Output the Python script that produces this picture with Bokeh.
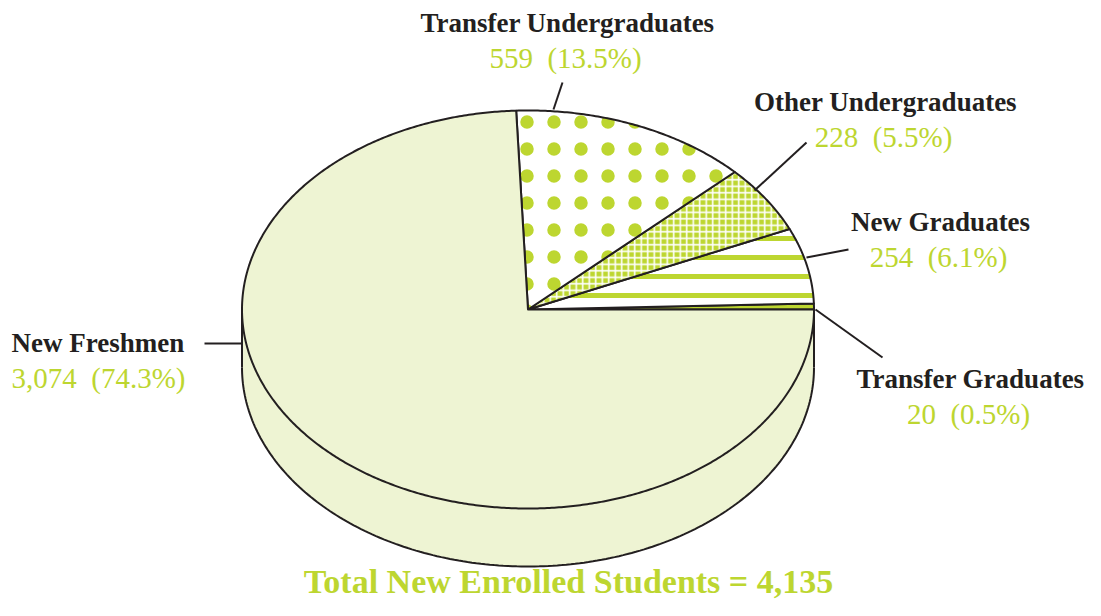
import numpy as np
from bokeh.plotting import figure
from bokeh.models import Range1d, Label
from bokeh.embed import file_html
from bokeh.resources import INLINE

# ---- data ----
categories = ["Transfer Graduates", "New Graduates", "Other Undergraduates",
              "Transfer Undergraduates", "New Freshmen"]
counts = [20, 254, 228, 559, 3074]
percents = ["0.5%", "6.1%", "5.5%", "13.5%", "74.3%"]
total_label = "Total New Enrolled Students = 4,135"

# ---- styles ----
GREEN = "#bdd630"
LIGHT = "#eef4d3"
DARK = "#231f20"
FONT = "Liberation Serif"

W, H = 1085, 600
p = figure(width=W, height=H, x_range=Range1d(0, W), y_range=Range1d(H, 0),
           output_backend="svg", toolbar_location=None, min_border=0)
p.axis.visible = False
p.grid.visible = False
p.outline_line_color = None
p.background_fill_color = "white"

# ellipse geometry (screen-like units)
cx, cy, rx, ry, depth = 527.5, 309.0, 286.0, 199.0, 58.0

def ell(t, dy=0.0):
    return cx + rx * np.cos(t), cy - ry * np.sin(t) + dy

# side of the cylinder
t_front = np.linspace(np.pi, 2 * np.pi, 200)
xt, yt = ell(t_front)
xb, yb = ell(t_front[::-1], depth)
p.patch(np.concatenate([xt, xb]), np.concatenate([yt, yb]),
        fill_color=LIGHT, line_color=None)
xb2, yb2 = ell(t_front, depth)
p.line(xb2, yb2, line_color=DARK, line_width=2)
p.line([cx - rx, cx - rx], [cy, cy + depth], line_color=DARK, line_width=2)
p.line([cx + rx, cx + rx], [cy, cy + depth], line_color=DARK, line_width=2)

# slices
styles = [
    dict(fill_color=GREEN),
    dict(fill_color="white", hatch_pattern="horizontal_line", hatch_color=GREEN,
         hatch_scale=19, hatch_weight=5),
    dict(fill_color=GREEN, hatch_pattern="cross", hatch_color="white",
         hatch_scale=6.5, hatch_weight=1.6),
    dict(fill_color="white", hatch_pattern="dot", hatch_color=GREEN,
         hatch_scale=27, hatch_weight=1),
    dict(fill_color=LIGHT),
]
fr = np.array(counts, dtype=float) / sum(counts)
ends = np.cumsum(fr) * 2 * np.pi
starts = np.concatenate([[0.0], ends[:-1]])
for s, e, st in zip(starts, ends, styles):
    t = np.linspace(s, e, max(4, int((e - s) * 120)))
    x, y = ell(t)
    p.patch(np.concatenate([[cx], x, [cx]]), np.concatenate([[cy], y, [cy]]),
            line_color=DARK, line_width=2, line_join="round", **st)

# labels (layout positions)
label_layout = {
    "Transfer Undergraduates": dict(x=567, y=22, align="center", line=((553, 109), (562, 82))),
    "Other Undergraduates": dict(x=885, y=101, align="center", line=((754, 190), (806, 142))),
    "New Graduates": dict(x=940, y=221, align="center", line=((806, 257), (848, 249))),
    "Transfer Graduates": dict(x=970, y=378, align="center", line=((815, 309), (882, 357))),
    "New Freshmen": dict(x=11, y=342, align="left", line=((204, 343), (242, 343))),
}
for cat, cnt, pc in zip(categories, counts, percents):
    L = label_layout[cat]
    (x0, y0), (x1, y1) = L["line"]
    p.line([x0, x1], [y0, y1], line_color=DARK, line_width=2)
    p.add_layout(Label(x=L["x"], y=L["y"], text=cat, text_font=FONT,
                       text_font_style="bold", text_font_size="27px",
                       text_color=DARK, text_align=L["align"], text_baseline="middle"))
    p.add_layout(Label(x=L["x"] - (2 if L["align"] == "center" else 0), y=L["y"] + 35,
                       text=f"{cnt:,}\u00a0 ({pc})", text_font=FONT,
                       text_font_size="29px", text_color=GREEN,
                       text_align=L["align"], text_baseline="middle"))

p.add_layout(Label(x=568, y=599, text=total_label, text_font=FONT, text_font_style="bold",
                   text_font_size="34px", text_color=GREEN, text_align="center",
                   text_baseline="bottom"))

open("out.html", "w").write(file_html(p, INLINE))
